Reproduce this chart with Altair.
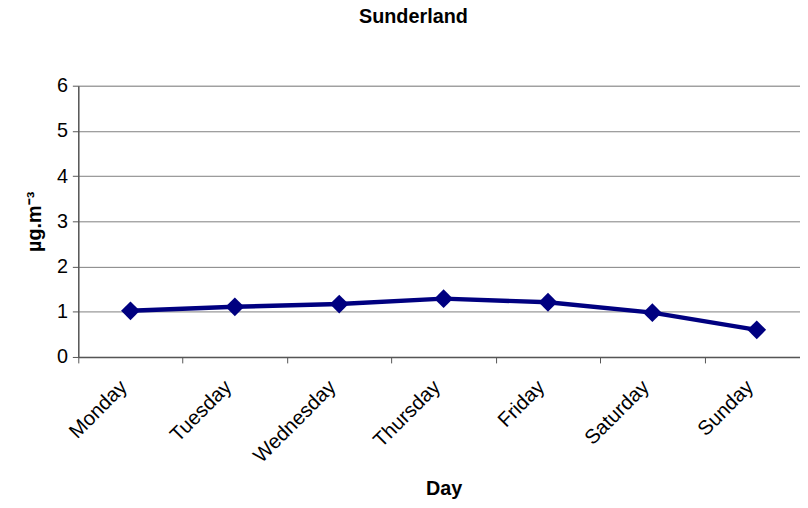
import altair as alt
import pandas as pd

days = ["Monday", "Tuesday", "Wednesday", "Thursday", "Friday", "Saturday", "Sunday"]
values = [1.02, 1.11, 1.17, 1.29, 1.21, 0.98, 0.60]

df = pd.DataFrame({"day": days, "value": values})

FONT = "Liberation Sans"
NAVY = "#000080"

x = alt.X(
    "day:N",
    sort=days,
    scale=alt.Scale(paddingInner=0, paddingOuter=0, range=[0, 738]),
    axis=alt.Axis(
        title="Day",
        titleFont=FONT,
        titleFontSize=20,
        titleFontWeight="bold",
        titleColor="black",
        titleX=369,
        titleY=133,
        titleBaseline="middle",
        labelAngle=-45,
        labelAlign="right",
        labelBaseline="middle",
        labelFont=FONT,
        labelFontSize=20.5,
        labelColor="black",
        labelPadding=21,
        labelOffset=-7,
        tickBand="extent",
        tickSize=6,
        tickColor="#555555",
        domainColor="#555555",
        domainWidth=1.5,
        grid=False,
    ),
)

y = alt.Y(
    "value:Q",
    scale=alt.Scale(domain=[0, 6], nice=False),
    axis=alt.Axis(
        title="µg.m⁻³",
        titleFont=FONT,
        titleFontSize=20,
        titleFontWeight="bold",
        titleColor="black",
        titleX=-44,
        titleY=137,
        titleAngle=-90,
        titleBaseline="middle",
        values=[0, 1, 2, 3, 4, 5, 6],
        labelFont=FONT,
        labelFontSize=20,
        labelColor="black",
        labelPadding=5,
        tickSize=6,
        tickColor="#555555",
        domainColor="#555555",
        domainWidth=1.5,
        grid=True,
        gridColor="#808080",
        gridWidth=1,
    ),
)

line = alt.Chart(df).mark_line(color=NAVY, strokeWidth=4.5).encode(x=x, y=y)
pts = alt.Chart(df).mark_point(shape="diamond", filled=True, color=NAVY, size=360, opacity=1).encode(x=x, y=y)

chart = (
    alt.layer(line, pts)
    .properties(
        width=729,
        height=274,
        padding={"left": 71, "top": 76, "right": 0, "bottom": 142},
        autosize=alt.AutoSizeParams(type="none"),
        title=alt.TitleParams(
            "Sunderland",
            font=FONT,
            fontSize=20,
            fontWeight="bold",
            color="black",
            anchor="middle",
            frame="group",
            dx=-26,
            offset=49,
        ),
    )
    .configure_view(stroke=None)
    .configure(background="white")
)

chart.save("out.html", embed_options={"renderer": "svg", "actions": False})
